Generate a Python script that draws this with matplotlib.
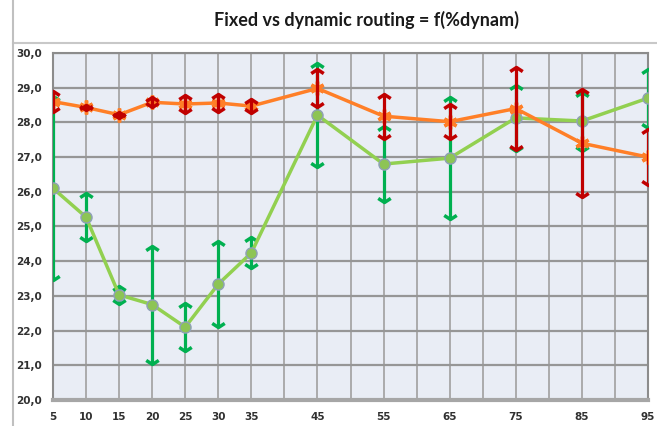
import matplotlib
matplotlib.use("Agg")
import matplotlib.pyplot as plt
from matplotlib.path import Path
from matplotlib.lines import Line2D
from matplotlib.ticker import FuncFormatter, MultipleLocator
import numpy as np

# ---- data ----
x_vals = [5, 10, 15, 20, 25, 30, 35, 45, 55, 65, 75, 85, 95]
x_labels = ["5", "10", "15", "20", "25", "30", "35", "45", "55", "65", "75", "85", "95"]
green_vals = [26.1, 25.27, 23.03, 22.75, 22.1, 23.34, 24.24, 28.21, 26.8, 26.97, 28.13, 28.04, 28.7]
green_err = [2.65, 0.7, 0.25, 1.7, 0.7, 1.25, 0.45, 1.5, 1.1, 1.75, 0.95, 0.85, 0.85]
orange_vals = [28.6, 28.43, 28.22, 28.58, 28.53, 28.56, 28.47, 28.98, 28.18, 28.02, 28.4, 27.4, 27.0]
orange_err = [0.3, 0.08, 0.08, 0.15, 0.25, 0.25, 0.2, 0.55, 0.65, 0.5, 1.2, 1.55, 0.8]
title_text = "Fixed vs dynamic routing = f(%dynam)"

x = np.array(x_vals, dtype=float)
g = np.array(green_vals)
ge = np.array(green_err)
o = np.array(orange_vals)
oe = np.array(orange_err)

fig = plt.figure(figsize=(6.57, 4.26), dpi=100)
fig.patch.set_facecolor("white")
ax = fig.add_axes([53 / 657, 1 - 400 / 426, (648 - 53) / 657, (400 - 53) / 426])
ax.set_facecolor("#E9EDF5")

ax.set_xlim(5, 95)
ax.set_ylim(20, 30)

# grid
ax.set_xticks(x_vals)
ax.set_xticklabels(x_labels)
ax.xaxis.set_minor_locator(MultipleLocator(5))
ax.yaxis.set_major_locator(MultipleLocator(1))
ax.grid(which="both", axis="x", color="#A6A6A6", lw=1.3, zorder=0)
ax.grid(which="major", axis="y", color="#969696", lw=1.6, zorder=0)
ax.set_axisbelow(True)
ax.tick_params(which="both", length=0)
ax.tick_params(axis="x", pad=9, labelsize=7.5, labelcolor="#303030")
ax.tick_params(axis="y", pad=8, labelsize=7.5, labelcolor="#303030")
for lab in ax.get_xticklabels() + ax.get_yticklabels():
    lab.set_fontweight("bold")
ax.yaxis.set_major_formatter(FuncFormatter(lambda v, p: f"{v:.1f}".replace(".", ",")))

for s in ["top", "left", "right"]:
    ax.spines[s].set_color("#8C8C8C")
    ax.spines[s].set_linewidth(1.5)
ax.spines["bottom"].set_color("#A6A6A6")
ax.spines["bottom"].set_linewidth(3)

up = Path([(-1, -0.65), (0, 0), (1, -0.65)], [Path.MOVETO, Path.LINETO, Path.LINETO])
down = Path([(-1, 0.65), (0, 0), (1, 0.65)], [Path.MOVETO, Path.LINETO, Path.LINETO])

GREEN_LINE = "#92D050"
GREEN_ERR = "#00B050"
ORANGE = "#FF7F27"
RED = "#C00000"

# green series
ax.errorbar(x, g, yerr=ge, fmt="none", ecolor=GREEN_ERR, elinewidth=2.3, capsize=0, zorder=3)
ax.plot(x, g + ge, ls="none", marker=up, ms=9, mew=2.5, mec=GREEN_ERR, mfc="none", zorder=3)
ax.plot(x, g - ge, ls="none", marker=down, ms=9, mew=2.5, mec=GREEN_ERR, mfc="none", zorder=3)
ax.plot(x, g, color=GREEN_LINE, lw=2.5, marker="o", ms=8, mfc="#8DC455", mec="#8FA0B8", mew=1.0, zorder=4)

# orange series
ax.plot(x, o, color=ORANGE, lw=2.5, marker=(6, 2, 0), ms=10, mec=ORANGE, mew=2.5, zorder=5)
ax.errorbar(x, o, yerr=oe, fmt="none", ecolor=RED, elinewidth=2.3, capsize=0, zorder=6)
ax.plot(x, o + oe, ls="none", marker=up, ms=9, mew=2.5, mec=RED, mfc="none", zorder=6)
ax.plot(x, o - oe, ls="none", marker=down, ms=9, mew=2.5, mec=RED, mfc="none", zorder=6)

# title and chart frame lines
fig.text(367 / 657, 1 - 20 / 426, title_text, ha="center", va="center",
         fontsize=13, fontweight="bold", family=["Lato", "DejaVu Sans"], color="#1a1a1a")
fig.add_artist(Line2D([13 / 657, 1], [1 - 43 / 426, 1 - 43 / 426], color="#C8C8C8", lw=1.5))
fig.add_artist(Line2D([13 / 657, 13 / 657], [0, 1], color="#C0C0C0", lw=1.5))

fig.savefig("out.png", dpi=100)
